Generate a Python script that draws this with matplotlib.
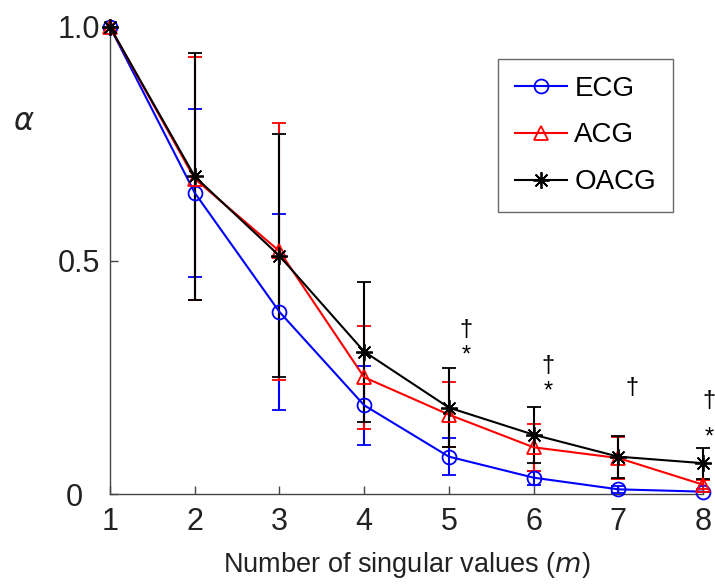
import matplotlib
matplotlib.use("Agg")
import matplotlib.pyplot as plt
from matplotlib.lines import Line2D
from matplotlib.transforms import ScaledTranslation

plt.rcParams['font.family'] = ['Liberation Sans', 'DejaVu Sans']

m = [1, 2, 3, 4, 5, 6, 7, 8]
ecg = [1.0, 0.645, 0.39, 0.19, 0.08, 0.035, 0.01, 0.005]
ecg_err = [0.0, 0.18, 0.21, 0.085, 0.04, 0.015, 0.008, 0.0]
acg = [1.0, 0.675, 0.52, 0.25, 0.17, 0.10, 0.077, 0.02]
acg_err = [0.0, 0.26, 0.275, 0.11, 0.07, 0.05, 0.045, 0.01]
oacg = [1.0, 0.68, 0.51, 0.305, 0.185, 0.127, 0.08, 0.066]
oacg_err = [0.0, 0.265, 0.26, 0.15, 0.085, 0.06, 0.045, 0.033]

# significance markers: (x, y, symbol)
sig_x = [5.2, 5.2, 6.17, 6.17, 7.16, 8.07, 8.07]
sig_y = [0.352, 0.296, 0.275, 0.219, 0.227, 0.20, 0.12]
sig_s = ['†', '*', '†', '*', '†', '†', '*']

fig = plt.figure(figsize=(7.15, 5.86), dpi=100)
ax = fig.add_axes([110/715, 1-494/586, (703-110)/715, (494-27)/586])

star = (8, 2, 0)
series = [
    (ecg, ecg_err, '#0000ff', 'o', 'ECG'),
    (acg, acg_err, '#ff0000', '^', 'ACG'),
    (oacg, oacg_err, '#000000', star, 'OACG'),
]
handles = []
for vals, err, col, mk, lab in series:
    ms = 12 if mk == star else 10
    ax.errorbar(m, vals, yerr=err, color=col, ecolor=col, elinewidth=1.5,
                capsize=5, capthick=1.5, lw=1.5, marker=mk, markersize=ms,
                markerfacecolor='none', markeredgecolor=col,
                markeredgewidth=1.3, clip_on=False, zorder=3)
    handles.append(Line2D([], [], color=col, lw=1.5, marker=mk, markersize=ms,
                          markerfacecolor='none', markeredgecolor=col,
                          markeredgewidth=1.3, label=lab))

for x, y, s in zip(sig_x, sig_y, sig_s):
    ax.text(x, y, s, fontsize=17, ha='center', va='center', clip_on=False)

ax.set_xlim(1, 8)
ax.set_ylim(0, 1)
ax.set_xticks(m)
ax.set_xticklabels([str(v) for v in m])
ax.set_yticks([0, 0.5, 1.0])
ax.set_yticklabels(['0', '0.5', '1.0'])
ax.spines['top'].set_visible(False)
ax.spines['right'].set_visible(False)
for sp in ['left', 'bottom']:
    ax.spines[sp].set_color('#444444')
    ax.spines[sp].set_linewidth(1.0)
ax.tick_params(axis='both', direction='in', length=6, width=1, colors='#444444',
               labelsize=22, labelcolor='#222222')
ax.tick_params(axis='x', pad=9)
ax.tick_params(axis='y', pad=7)

# shift the '0' y tick label left like the reference
lbl0 = ax.get_yticklabels()[0]
lbl0.set_transform(lbl0.get_transform() + ScaledTranslation(-0.17, 0, fig.dpi_scale_trans))

ax.set_xlabel('Number of singular values ($\\it{m}$)', fontsize=19.5, color='#222222', labelpad=10)
fig.text(24/715, 1-122/586, '$\\alpha$', fontsize=22, ha='center', va='center', color='#222222')

leg = ax.legend(handles=handles, loc='upper left',
                bbox_to_anchor=((498-110)/593, 1-(59-27)/467),
                fontsize=20, frameon=True, fancybox=False, edgecolor='#444444',
                handlelength=1.9, borderpad=0.6, labelspacing=0.75, handletextpad=0.25,
                borderaxespad=0)
leg.get_frame().set_linewidth(1.0)

fig.savefig('out.png', dpi=100)
